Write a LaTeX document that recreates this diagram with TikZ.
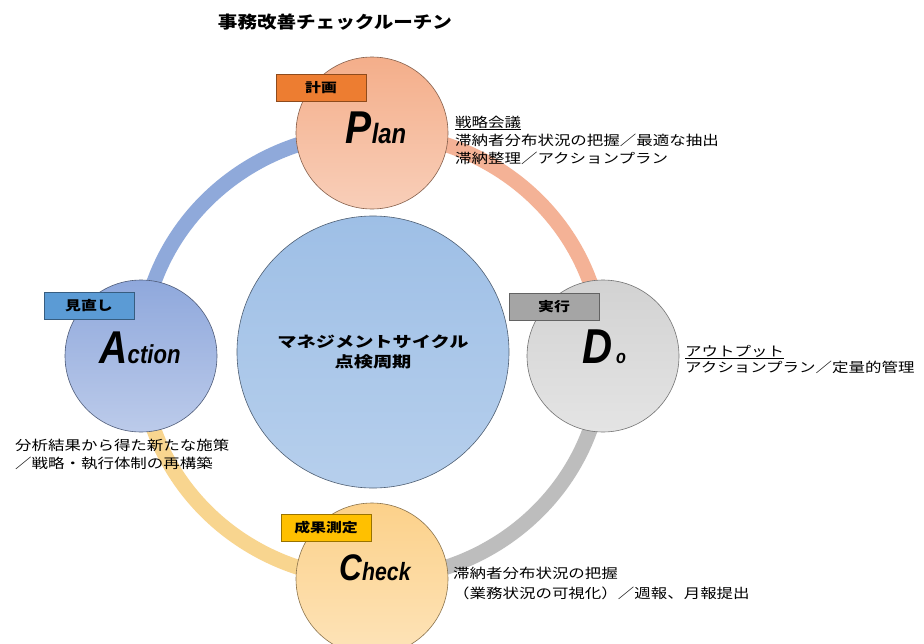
\documentclass[tikz,border=0pt]{standalone}
\usepackage{fontspec}
\newfontfamily\cjkN[FakeStretch=1.22]{Noto Sans CJK JP}
\newfontfamily\cjkT[FakeStretch=1.15]{Noto Sans CJK JP}
\newfontfamily\cjkH[FakeStretch=1.28]{Noto Sans CJK JP}
\newfontfamily\pdca[FakeStretch=0.85]{Liberation Sans}
\definecolor{planC}{HTML}{F4AE8A}
\definecolor{doC}{HTML}{D2D2D2}
\definecolor{checkC}{HTML}{FCD18A}
\definecolor{actC}{HTML}{8FA8DC}
\definecolor{hubC}{HTML}{9EBFE6}
\definecolor{bandP}{HTML}{F4B296}
\definecolor{bandD}{HTML}{BDBDBD}
\definecolor{bandC}{HTML}{F8D58F}
\definecolor{bandA}{HTML}{8FA9DA}
\definecolor{tagP}{HTML}{ED7D31}
\definecolor{tagD}{HTML}{A5A5A5}
\definecolor{tagC}{HTML}{FFC000}
\definecolor{tagA}{HTML}{5B9BD5}
\begin{document}
\begin{tikzpicture}[x=1pt,y=-1pt,
  band/.style={line width=15pt, line cap=butt},
  phase/.style={circle, minimum size=152pt, inner sep=0pt, draw=#1!55!black,
    line width=0.6pt, top color=#1, bottom color=#1!60!white},
  tag/.style={draw=#1!60!black, fill=#1, line width=0.8pt, minimum width=90pt,
    minimum height=27pt, inner sep=0pt,
    font=\cjkN\bfseries\fontsize{13}{14}\selectfont},
  note/.style={align=left, inner sep=0pt, anchor=base west},
  word/.style={anchor=base, inner sep=0pt, font=\pdca\bfseries\itshape},
]
\path[use as bounding box] (0,0) rectangle (924,643);
\clip (0,0) rectangle (924,643);
\fill[white] (0,0) rectangle (924,643);

\node[inner sep=0pt, font=\cjkT\bfseries\fontsize{17}{17}\selectfont] (title) at (335,22) {事務改善チェックルーチン};

% ring positions
\coordinate (ringc) at (372,356);
\coordinate (pPlan) at (372,133);
\coordinate (pDo) at (603,356);
\coordinate (pCheck) at (372,579);
\coordinate (pAct) at (141,356);

% bands
\draw[band, bandP] (pPlan) arc[start angle=90, end angle=0, x radius=231pt, y radius=223pt];
\draw[band, bandD] (pDo) arc[start angle=0, end angle=-90, x radius=231pt, y radius=223pt];
\draw[band, bandC] (pCheck) arc[start angle=-90, end angle=-180, x radius=231pt, y radius=223pt];
\draw[band, bandA] (pAct) arc[start angle=180, end angle=90, x radius=231pt, y radius=223pt];

% circles
\node[phase=planC] (plan) at (pPlan) {};
\node[phase=doC] (do) at (pDo) {};
\node[phase=checkC] (check) at (pCheck) {};
\node[phase=actC] (act) at (pAct) {};
\node[circle, minimum size=272pt, inner sep=0pt, draw=hubC!50!black, line width=0.6pt,
  top color=hubC, bottom color=hubC!75!white] (hub) at (373,352) {};
\node[align=center, inner sep=0pt, font=\cjkH\bfseries\fontsize{15}{20}\selectfont]
  (hubtxt) at (373,352) {マネジメントサイクル\\点検周期};

% big words
\node[word] (planW) at (376,143) {\fontsize{46}{46}\selectfont P\fontsize{28}{28}\selectfont lan};
\node[word] (doW) at (604,363) {\fontsize{49}{49}\selectfont D\hspace{4pt}\fontsize{19}{19}\selectfont o};
\node[word] (actW) at (140,363) {\fontsize{46}{46}\selectfont A\fontsize{26}{26}\selectfont ction};
\node[word] (checkW) at (375,580) {\fontsize{37}{37}\selectfont C\fontsize{25}{25}\selectfont heck};

% tags
\node[tag=tagP] (planTag) at (321,88) {計画};
\node[tag=tagD] (doTag) at (554,307) {実行};
\node[tag=tagA] (actTag) at (89,306) {見直し};
\node[tag=tagC] (checkTag) at (326,528) {成果測定};

% notes (anchor = baseline of last line)
\node[note, font=\cjkN\fontsize{13.5}{18}\selectfont] (planNote) at (455,163)
  {\underline{戦略会議}\\滞納者分布状況の把握／最適な抽出\\滞納整理／アクションプラン};
\node[note, font=\cjkN\fontsize{13.5}{16}\selectfont] (doNote) at (685,372)
  {\underline{アウトプット}\\アクションプラン／定量的管理};
\node[note, font=\cjkN\fontsize{13.5}{18}\selectfont] (actNote) at (15,468)
  {分析結果から得た新たな施策\\／戦略・執行体制の再構築};
\node[note, font=\cjkN\fontsize{13.5}{20}\selectfont] (checkNote) at (453,598)
  {滞納者分布状況の把握\\（業務状況の可視化）／週報、月報提出};
\end{tikzpicture}
\end{document}
